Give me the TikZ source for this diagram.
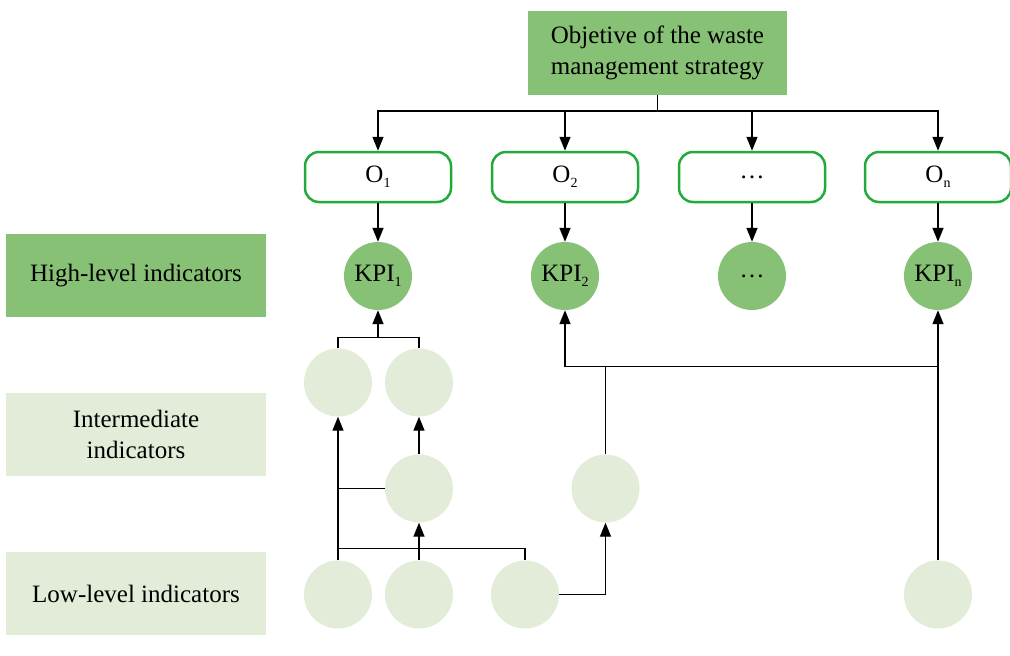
\documentclass[tikz,border=0pt]{standalone}
\usepackage{fontspec}
\setmainfont{Liberation Serif}
\usetikzlibrary{arrows.meta}
\definecolor{dkgreen}{HTML}{86C176}
\definecolor{ltgreen}{HTML}{E2ECD8}
\definecolor{objborder}{HTML}{22AA3C}
\newcommand{\lowsub}[1]{\raisebox{-0.45ex}{\fontsize{14}{14}\selectfont #1}}
\begin{document}
\begin{tikzpicture}[x=1pt,y=-1pt,
  txt/.style={font=\fontsize{25}{31}\selectfont, align=center, text=black},
  topbox/.style={txt, fill=dkgreen, minimum width=259pt, minimum height=84pt, inner sep=0pt},
  labhigh/.style={txt, fill=dkgreen, minimum width=260pt, minimum height=83pt, inner sep=0pt},
  lablow/.style={txt, fill=ltgreen, minimum width=260pt, minimum height=83pt, inner sep=0pt},
  objbox/.style={txt, draw=objborder, line width=2.5pt, rounded corners=14pt, minimum width=146pt, minimum height=50pt, inner sep=0pt},
  kpi/.style={txt, circle, fill=dkgreen, minimum size=68pt, inner sep=0pt},
  ind/.style={circle, fill=ltgreen, minimum size=68pt, inner sep=0pt},
  conn/.style={line width=1.4pt, draw=black},
  arr/.style={conn, -{Triangle[length=14pt,width=11pt]}}
]
\useasboundingbox (0,0) rectangle (1010,656);

% top objective
\node[topbox] (obj) at (657.5,53) {Objetive of the waste\\management strategy};

% objectives
\node[objbox] (o1) at (378,177) {O\lowsub{1}};
\node[objbox] (o2) at (565,177) {O\lowsub{2}};
\node[objbox] (o3) at (752,177) {\ldots};
\node[objbox] (on) at (938,177) {O\lowsub{n}};

% KPIs
\node[kpi] (k1) at (378,276) {KPI\lowsub{1}};
\node[kpi] (k2) at (565,276) {KPI\lowsub{2}};
\node[kpi] (k3) at (752,276) {\ldots};
\node[kpi] (kn) at (938,276) {KPI\lowsub{n}};

% left labels
\node[labhigh] (lh) at (136,275.5) {High-level indicators};
\node[lablow] (li) at (136,434.5) {Intermediate\\indicators};
\node[lablow] (ll) at (136,593.5) {Low-level indicators};

% indicator circles
\node[ind] (i1) at (338,382.5) {};
\node[ind] (i2) at (419,382.5) {};
\node[ind] (m)  at (419,488.5) {};
\node[ind] (r)  at (605.5,488.5) {};
\node[ind] (l1) at (338,594.5) {};
\node[ind] (l2) at (419,594.5) {};
\node[ind] (l3) at (525,594.5) {};
\node[ind] (l4) at (938,594.5) {};

% top distribution
\coordinate (topbus) at (657.5,111);
\draw[conn] (obj.south) -- (topbus);
\draw[arr] (topbus) -| (o1.north);
\draw[arr] (topbus) -| (o2.north);
\draw[arr] (topbus) -| (o3.north);
\draw[arr] (topbus) -| (on.north);

% objectives to KPIs
\draw[arr] (o1) -- (k1);
\draw[arr] (o2) -- (k2);
\draw[arr] (o3) -- (k3);
\draw[arr] (on) -- (kn);

% left group
\coordinate (j1) at (378,338);
\draw[conn] (i1.north) -- ++(0,-11) -| (i2.north);
\draw[arr] (j1) -- (k1.south);
\draw[arr] (l1.north) -- (i1.south);
\draw[arr] (l2.north) -- (m.south);
\draw[arr] (m.north) -- (i2.south);
\draw[conn] (m.west) -- (m.west -| l1.north);
\draw[conn] (l1.north) ++(0,-12) -| (l3.north);

% right group
\draw[arr] (l3.east) -| (r.south);
\coordinate (hb) at (605.5,366.5);
\draw[conn] (r.north) -- (hb);
\draw[arr] (hb) -| (k2.south);
\draw[conn] (hb) -- (hb -| l4.north);
\draw[arr] (l4.north) -- (kn.south);
\end{tikzpicture}
\end{document}
